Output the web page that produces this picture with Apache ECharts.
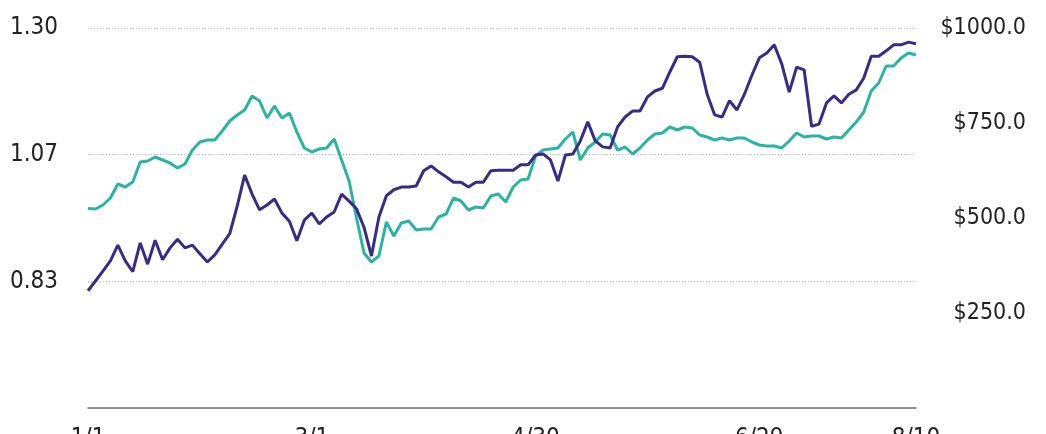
<!DOCTYPE html>
<html>
<head>
<meta charset="utf-8">
<script src="https://cdn.jsdelivr.net/npm/echarts@6/dist/echarts.min.js"></script>
<style>
html,body{margin:0;padding:0;background:#fff;}
#chart{width:1046px;height:434px;}
</style>
</head>
<body>
<div id="chart"></div>
<script>
// Dates every 2 days from 2020-01-01 to 2020-08-10
var dates = [];
for (var i = 0; i < 112; i++) {
  var d = new Date(2020, 0, 1 + i * 2);
  dates.push((d.getMonth() + 1) + '/' + d.getDate());
}

// X axis labels shown
var xTickLabels = ['1/1', '3/1', '4/30', '6/29', '8/10'];

// Left axis series (ratio)
var ratioValues = [
  0.816, 0.834, 0.852, 0.871, 0.900, 0.871, 0.851, 0.904, 0.865, 0.909,
  0.873, 0.895, 0.911, 0.895, 0.900, 0.884, 0.869, 0.882, 0.902, 0.921,
  0.972, 1.029, 0.994, 0.965, 0.974, 0.985, 0.959, 0.944, 0.908, 0.946,
  0.959, 0.939, 0.952, 0.961, 0.994, 0.981, 0.967, 0.933, 0.880, 0.952,
  0.991, 1.002, 1.007, 1.007, 1.009, 1.037, 1.046, 1.035, 1.026, 1.016,
  1.016, 1.007, 1.016, 1.016, 1.037, 1.038, 1.038, 1.038, 1.048, 1.048,
  1.066, 1.068, 1.057, 1.018, 1.066, 1.068, 1.092, 1.127, 1.092, 1.081,
  1.079, 1.118, 1.136, 1.147, 1.147, 1.173, 1.184, 1.189, 1.219, 1.247,
  1.248, 1.247, 1.237, 1.178, 1.140, 1.136, 1.166, 1.149, 1.178, 1.213,
  1.245, 1.254, 1.269, 1.234, 1.182, 1.228, 1.223, 1.119, 1.123, 1.162,
  1.175, 1.162, 1.178, 1.186, 1.208, 1.248, 1.248, 1.258, 1.269, 1.269,
  1.274, 1.271
];

// Right axis series (price, USD)
var priceValues = [
  525.0, 523.7, 534.2, 552.6, 589.5, 581.6, 594.7, 647.4, 650.0, 660.5,
  652.6, 644.7, 631.6, 642.1, 678.9, 700.0, 705.3, 705.3, 728.9, 755.3,
  771.1, 784.2, 821.1, 807.9, 763.2, 794.7, 763.2, 776.3, 726.3, 684.2,
  673.7, 681.6, 684.2, 707.9, 652.6, 597.4, 500.0, 407.9, 384.2, 400.0,
  489.5, 452.6, 486.8, 492.1, 468.4, 471.1, 471.1, 502.6, 510.5, 552.6,
  544.7, 521.1, 528.9, 526.3, 557.9, 563.2, 542.1, 581.6, 600.0, 602.6,
  663.2, 678.9, 681.6, 684.2, 707.9, 726.3, 652.6, 684.2, 700.0, 721.1,
  718.4, 678.9, 686.8, 668.4, 684.2, 705.3, 721.1, 723.7, 739.5, 731.6,
  739.5, 736.8, 718.4, 713.2, 705.3, 710.5, 705.3, 710.5, 710.5, 700.0,
  692.1, 689.5, 689.5, 684.2, 702.6, 723.7, 713.2, 715.8, 715.8, 707.9,
  713.2, 710.5, 731.6, 752.6, 778.9, 834.2, 855.3, 900.0, 900.0, 921.1,
  934.2, 928.9
];

var leftMin = 0.6, leftMax = 1.3;
var rightMin = 0, rightMax = 1000, rightStep = 250;

var labelFont = '"DejaVu Sans Condensed", "DejaVu Sans", sans-serif';

var chart = echarts.init(document.getElementById('chart'), null, {renderer: 'canvas'});
chart.setOption({
  animation: false,
  backgroundColor: '#ffffff',
  grid: {left: 88, right: 130, top: 28, bottom: 26, containLabel: false, outerBoundsMode: 'none'},
  xAxis: {
    type: 'category',
    data: dates,
    boundaryGap: false,
    axisLine: {show: true, lineStyle: {color: '#6e6e6e', width: 1.5}},
    axisTick: {show: false},
    splitLine: {show: false},
    axisLabel: {
      interval: function (idx, val) { return xTickLabels.indexOf(val) >= 0; },
      margin: 19,
      color: '#222',
      fontSize: 24,
      fontFamily: labelFont
    }
  },
  yAxis: [
    {
      type: 'value',
      min: leftMin,
      max: leftMax,
      interval: (leftMax - leftMin) / 3,
      position: 'left',
      axisLine: {show: false},
      axisTick: {show: false},
      splitLine: {show: true, lineStyle: {color: '#b8b8b8', type: [1, 2], width: 1}},
      axisLabel: {
        margin: 30,
        color: '#222',
        fontSize: 24,
        fontFamily: labelFont,
        formatter: function (v) { return v <= leftMin + 1e-6 ? '' : v.toFixed(2); }
      }
    },
    {
      type: 'value',
      min: rightMin,
      max: rightMax,
      interval: rightStep,
      position: 'right',
      axisLine: {show: false},
      axisTick: {show: false},
      splitLine: {show: false},
      axisLabel: {
        margin: 110,
        align: 'right',
        color: '#222',
        fontSize: 23,
        fontFamily: labelFont,
        formatter: function (v) { return v <= rightMin ? '' : '$' + v.toFixed(1); }
      }
    }
  ],
  series: [
    {
      name: 'Price',
      type: 'line',
      yAxisIndex: 1,
      data: priceValues,
      symbol: 'none',
      lineStyle: {color: '#2bb3a3', width: 3},
      itemStyle: {color: '#2bb3a3'}
    },
    {
      name: 'Ratio',
      type: 'line',
      yAxisIndex: 0,
      data: ratioValues,
      symbol: 'none',
      lineStyle: {color: '#382c85', width: 3},
      itemStyle: {color: '#382c85'}
    }
  ]
});
</script>
</body>
</html>
